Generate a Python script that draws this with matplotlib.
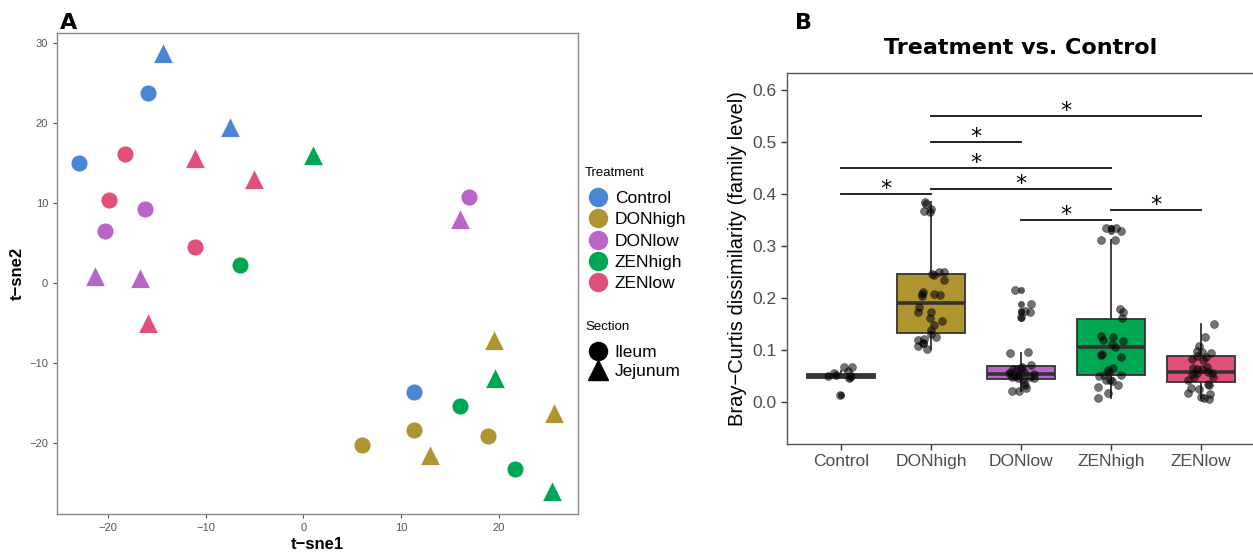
import numpy as np
import matplotlib.pyplot as plt
from matplotlib.lines import Line2D

treatments = ['Control', 'DONhigh', 'DONlow', 'ZENhigh', 'ZENlow']
colors = ['#4A86D4', '#B09430', '#B964C8', '#00A651', '#E2507A']

# panel A: t-sne coordinates
tsne1 = [-15.9, -23.0, 11.3, -14.4, -7.55,
         11.3, 18.9, 6.0, 19.5, 25.6, 13.0,
         16.9, -16.2, -20.3, 16.05, -21.3, -16.7,
         -6.5, 16.0, 21.7, 0.95, 19.6, 25.4,
         -18.2, -19.9, -11.05, -11.05, -5.0, -15.9]
tsne2 = [23.75, 15.0, -13.7, 28.8, 19.5,
         -18.4, -19.1, -20.25, -7.1, -16.3, -21.5,
         10.7, 9.3, 6.5, 8.0, 0.8, 0.6,
         2.3, -15.4, -23.25, 16.0, -11.9, -26.0,
         16.1, 10.4, 4.5, 15.6, 13.0, -5.0]
tsne_treat = ['Control'] * 5 + ['DONhigh'] * 6 + ['DONlow'] * 6 + ['ZENhigh'] * 6 + ['ZENlow'] * 6
tsne_section = (['Ileum'] * 3 + ['Jejunum'] * 2
                + (['Ileum'] * 3 + ['Jejunum'] * 3) * 4)

# panel B: Bray-Curtis dissimilarity (family level), jittered points
bc_values = {
    'Control': [0.067, 0.066, 0.060, 0.055, 0.052, 0.050, 0.049, 0.048, 0.045, 0.013],
    'DONhigh': [0.381, 0.385, 0.368, 0.365, 0.371, 0.245, 0.249, 0.250, 0.244, 0.234,
                0.212, 0.204, 0.208, 0.183, 0.173, 0.172, 0.162, 0.156, 0.148, 0.138,
                0.130, 0.120, 0.119, 0.1125, 0.124, 0.1125, 0.1015, 0.108, 0.205, 0.207],
    'DONlow': [0.215, 0.188, 0.1625, 0.173, 0.174, 0.0957, 0.093, 0.066, 0.064, 0.0707,
               0.063, 0.058, 0.0547, 0.053, 0.0495, 0.048, 0.048, 0.045, 0.045, 0.043,
               0.0354, 0.032, 0.0258, 0.021, 0.021, 0.050, 0.051, 0.056, 0.054, 0.062],
    'ZENhigh': [0.335, 0.335, 0.329, 0.3115, 0.311, 0.1786, 0.1735, 0.1606, 0.125, 0.126,
                0.119, 0.116, 0.111, 0.092, 0.0867, 0.106, 0.064, 0.061, 0.058, 0.0515,
                0.050, 0.0515, 0.042, 0.040, 0.041, 0.032, 0.0277, 0.016, 0.0065, 0.090],
    'ZENlow': [0.150, 0.125, 0.107, 0.096, 0.094, 0.088, 0.080, 0.086, 0.0625, 0.062,
               0.058, 0.056, 0.053, 0.048, 0.042, 0.035, 0.032, 0.026, 0.025, 0.015,
               0.016, 0.0065, 0.006, 0.0095, 0.067, 0.047, 0.064, 0.055, 0.083, 0.098],
}

# box statistics
box_q1 = [0.046, 0.132, 0.044, 0.0515, 0.0373]
box_med = [0.050, 0.191, 0.053, 0.105, 0.0566]
box_q3 = [0.054, 0.2455, 0.069, 0.159, 0.0887]
box_lo = [0.045, 0.102, 0.021, 0.0065, 0.007]
box_hi = [0.060, 0.385, 0.094, 0.311, 0.149]
box_out = [[0.013], [], [0.162, 0.173, 0.174, 0.188, 0.215], [0.329, 0.335, 0.335], []]

sig_pairs = [(1, 2), (1, 4), (2, 3), (2, 5), (2, 4), (3, 4), (4, 5)]
sig_y = [0.40, 0.45, 0.50, 0.55, 0.41, 0.35, 0.37]

W, H = 1253, 552
fig = plt.figure(figsize=(W / 100, H / 100), dpi=100)
sans = ['Liberation Sans', 'DejaVu Sans']

# ---------------- panel A ----------------
axA = fig.add_axes([57 / W, 1 - 514 / H, (578 - 57) / W, (514 - 33) / H])
for tr, col in zip(treatments, colors):
    for sec, mk, s in [('Ileum', 'o', 150), ('Jejunum', '^', 210)]:
        xs = [x for x, t, q in zip(tsne1, tsne_treat, tsne_section) if t == tr and q == sec]
        ys = [y for y, t, q in zip(tsne2, tsne_treat, tsne_section) if t == tr and q == sec]
        axA.scatter(xs, ys, s=s, marker=mk, color=col, edgecolors='white', linewidths=0.6, zorder=3)
axA.set_xlim(-25.2, 28.1)
axA.set_ylim(-28.9, 31.25)
axA.set_xticks([-20, -10, 0, 10, 20])
axA.set_yticks([-20, -10, 0, 10, 20, 30])
axA.set_xticklabels(['\u221220', '\u221210', '0', '10', '20'])
axA.set_yticklabels(['\u221220', '\u221210', '0', '10', '20', '30'])
for sp in axA.spines.values():
    sp.set_color('#8a8a8a')
    sp.set_linewidth(1.0)
axA.tick_params(colors='#555555', labelsize=8, length=3, width=0.8)
for lab in axA.get_xticklabels() + axA.get_yticklabels():
    lab.set_family(sans)
axA.set_xlabel('t\u2212sne1', fontsize=12, fontweight='bold', family=sans, labelpad=3)
axA.set_ylabel('t\u2212sne2', fontsize=12, fontweight='bold', family=sans, labelpad=3)
fig.text(60 / W, 1 - 29 / H, 'A', fontsize=16, fontweight='bold', family='DejaVu Sans')

# legends (titles drawn as text so the spacing can follow the original)
fig.text(585 / W, 1 - 173 / H, 'Treatment', fontsize=9.5, family=sans, va='center')
h_tr = [Line2D([], [], marker='o', ls='', color=c, markersize=13) for c in colors]
leg1 = fig.legend(h_tr, treatments, loc='upper left', bbox_to_anchor=(586 / W, 1 - 191 / H),
                  frameon=False, handletextpad=0.25, borderpad=0,
                  labelspacing=0.35, borderaxespad=0, handlelength=1.4,
                  prop={'family': sans, 'size': 12.5})
fig.text(585 / W, 1 - 327 / H, 'Section', fontsize=9.5, family=sans, va='center')
h_sec = [Line2D([], [], marker='o', ls='', color='black', markersize=13),
         Line2D([], [], marker='^', ls='', color='black', markersize=14)]
leg2 = fig.legend(h_sec, ['Ileum', 'Jejunum'], loc='upper left', bbox_to_anchor=(586 / W, 1 - 345 / H),
                  frameon=False, handletextpad=0.25, borderpad=0,
                  labelspacing=0.2, borderaxespad=0, handlelength=1.4,
                  prop={'family': sans, 'size': 12.5})

# ---------------- panel B ----------------
axB = fig.add_axes([787 / W, 1 - 444 / H, (1255 - 787) / W, (444 - 73) / H])
pos = np.arange(1, len(treatments) + 1)
stats = []
for i, tr in enumerate(treatments):
    stats.append({'med': box_med[i], 'q1': box_q1[i], 'q3': box_q3[i],
                  'whislo': box_lo[i], 'whishi': box_hi[i], 'fliers': box_out[i], 'label': tr})
bp = axB.bxp(stats, positions=pos, widths=0.75, patch_artist=True, showcaps=False,
             boxprops={'edgecolor': '#333333', 'linewidth': 1.3},
             medianprops={'color': '#333333', 'linewidth': 2.6},
             whiskerprops={'color': '#333333', 'linewidth': 1.3},
             flierprops={'marker': 'o', 'markerfacecolor': '#111111', 'markeredgecolor': 'none',
                         'markersize': 5, 'alpha': 0.7})
for patch, col in zip(bp['boxes'], colors):
    patch.set_facecolor(col)

rng = np.random.default_rng(7)
for p, tr in zip(pos, treatments):
    vals = np.array(bc_values[tr])
    jit = rng.uniform(-0.15, 0.15, len(vals))
    axB.scatter(p + jit, vals, s=32, color='black', alpha=0.55, edgecolors='#222222',
                linewidths=0.6, zorder=4)

for (a, b), y in zip(sig_pairs, sig_y):
    axB.plot([a, b], [y, y], color='#222222', lw=1.4, zorder=5)
    axB.text((a + b) / 2, y - 0.002, '*', ha='center', va='baseline', fontsize=16,
             family='DejaVu Sans', zorder=5)

axB.set_xlim(0.4, 5.6)
axB.set_ylim(-0.0815, 0.633)
axB.set_xticks(pos)
axB.set_xticklabels(treatments)
axB.set_yticks([0.0, 0.1, 0.2, 0.3, 0.4, 0.5, 0.6])
axB.set_yticklabels(['0.0', '0.1', '0.2', '0.3', '0.4', '0.5', '0.6'])
for sp in axB.spines.values():
    sp.set_color('#555555')
    sp.set_linewidth(1.0)
axB.tick_params(colors='#333333', labelcolor='#4d4d4d', labelsize=12.5, length=4, width=1)
for lab in axB.get_xticklabels() + axB.get_yticklabels():
    lab.set_family(sans)
axB.set_ylabel('Bray\u2212Curtis dissimilarity (family level)', fontsize=14.5, family=sans, labelpad=4)
axB.set_title('Treatment vs. Control', fontsize=16, fontweight='bold', family='DejaVu Sans', pad=14)
fig.text(795 / W, 1 - 29 / H, 'B', fontsize=16, fontweight='bold', family='DejaVu Sans')

fig.savefig('out.png', dpi=100)
